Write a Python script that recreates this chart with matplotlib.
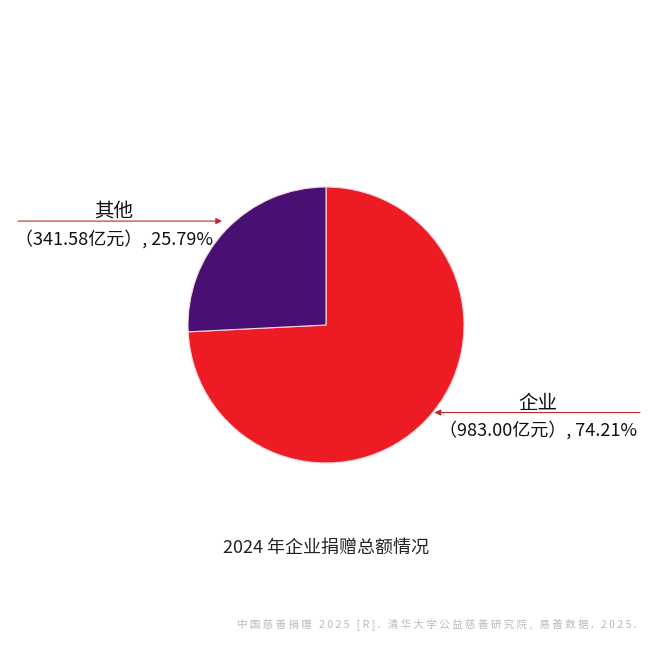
import numpy as np
import matplotlib
matplotlib.use("Agg")
import matplotlib.pyplot as plt

plt.rcParams['font.family'] = ['Noto Sans CJK SC', 'DejaVu Sans']

categories = ["企业", "其他"]
values = [983.00, 341.58]
percents = ["74.21%", "25.79%"]
colors = ["#ED1C24", "#4A0F73"]
title = "2024 年企业捐赠总额情况"
source = "中国慈善捐赠 2025 [R]. 清华大学公益慈善研究院, 易善数据. 2025."

W = H = 650
fig = plt.figure(figsize=(6.5, 6.5), dpi=100)
cx, cy, r = 326, 325, 138
ax = fig.add_axes([(cx - r) / W, (cy - r) / H, 2 * r / W, 2 * r / H])
wedges, _ = ax.pie(values, colors=colors, startangle=90, counterclock=False,
                   wedgeprops=dict(edgecolor="#F4D6DC", linewidth=0.8))
ax.set_xlim(-1, 1)
ax.set_ylim(-1, 1)
ax.set_aspect('equal')
ax.axis('off')

# label layout: arrow tip angle (deg) / radius (in pie radii), tail x px, label center x px
label_cfg = {
    "企业": dict(ang=-38.9, rad=1.01, tail_x=640, text_cx=538),
    "其他": dict(ang=135.0, rad=1.065, tail_x=18, text_cx=114),
}
for w, cat, val, pct in zip(wedges, categories, values, percents):
    cfg = label_cfg[cat]
    a = np.deg2rad(cfg["ang"])
    tip = (cfg["rad"] * np.cos(a), cfg["rad"] * np.sin(a))
    ty = ax.transData.transform(tip)[1]
    ax.annotate("", xy=tip, xycoords='data',
                xytext=(cfg["tail_x"], ty), textcoords='figure pixels',
                arrowprops=dict(arrowstyle="-|>", color="#C0282D", lw=0.8,
                                mutation_scale=9, shrinkA=0, shrinkB=0),
                annotation_clip=False)
    fig.text(cfg["text_cx"] / W, (ty + 9) / H, cat, ha='center', va='center',
             fontsize=14, color="#111111")
    fig.text(cfg["text_cx"] / W, (ty - 18) / H, f"（{val:.2f}亿元）, {pct}",
             ha='center', va='center', fontsize=13, color="#111111")

fig.text(326 / W, (H - 548) / H, title, ha='center', va='center',
         fontsize=13, color="#222222")

spaced = " ".join(list(source))
fig.text(637 / W, (H - 625) / H, spaced, ha='right', va='center',
         fontsize=7.6, color="#BBBBBB")

fig.savefig("out.png", dpi=100, facecolor="white")
